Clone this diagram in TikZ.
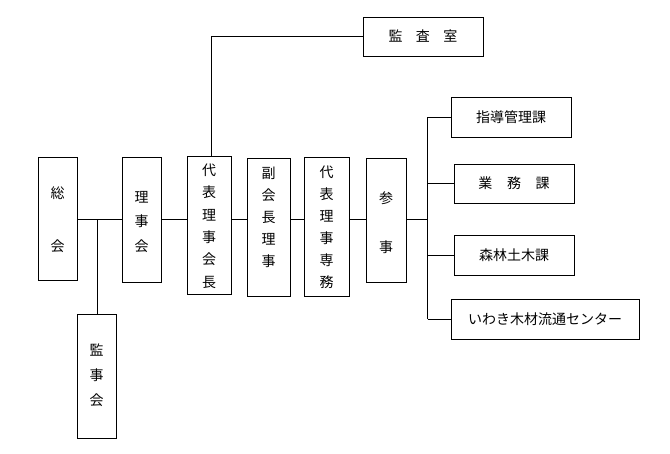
\documentclass[tikz,border=0pt]{standalone}
\usepackage{fontspec}
\newfontfamily\jp{Noto Sans CJK JP}
\begin{document}
\begin{tikzpicture}[x=1pt,y=-1pt,
  box/.style={draw, line width=1pt, inner sep=0pt, font=\jp\fontsize{14}{16}\selectfont},
  conn/.style={line width=0.8pt},
  vtxt/.style={align=center, inner sep=0pt}]
\useasboundingbox (0,0) rectangle (670,453);
% boxes
\node[box, minimum width=39, minimum height=123] (soukai) at (57.5,218.5) {};
\node[box, minimum width=39, minimum height=125] (rijikai) at (141.5,219.5) {};
\node[box, minimum width=44, minimum height=138] (daihyo) at (209,225) {};
\node[box, minimum width=43, minimum height=138] (fuku) at (268.5,227) {};
\node[box, minimum width=45, minimum height=139] (senmu) at (326.5,226.5) {};
\node[box, minimum width=40, minimum height=124] (sanji) at (386,220) {};
\node[box, minimum width=39, minimum height=124] (kanjikai) at (96.5,376) {};
\node[box, minimum width=120, minimum height=39] (kansa) at (423,36.5) {監\hspace{0.95em}査\hspace{0.95em}室};
\node[box, minimum width=120, minimum height=40] (shido) at (511,117) {指導管理課};
\node[box, minimum width=120, minimum height=39] (gyomu) at (514,183.5) {業\hspace{1.05em}務\hspace{1.05em}課};
\node[box, minimum width=120, minimum height=40] (shinrin) at (514,255) {森林土木課};
\node[box, minimum width=188, minimum height=40] (iwaki) at (545,319) {いわき木材流通センター};
% vertical texts
\node[vtxt, font=\jp\fontsize{14}{53}\selectfont] (t1) at (57.5,219.5) {総\\会};
\node[vtxt, font=\jp\fontsize{14}{24.5}\selectfont] (t2) at (141.5,222) {理\\事\\会};
\node[vtxt, font=\jp\fontsize{14}{22.4}\selectfont] (t3) at (209,226) {代\\表\\理\\事\\会\\長};
\node[vtxt, font=\jp\fontsize{14}{22}\selectfont] (t4) at (268.5,217) {副\\会\\長\\理\\事};
\node[vtxt, font=\jp\fontsize{14}{22}\selectfont] (t5) at (326.5,227) {代\\表\\理\\事\\専\\務};
\node[vtxt, font=\jp\fontsize{14}{49}\selectfont] (t6) at (386,222.5) {参\\事};
\node[vtxt, font=\jp\fontsize{14}{25}\selectfont] (t7) at (96.5,375) {監\\事\\会};
% connectors
\coordinate (m) at (0,219);
\coordinate (k) at (211.5,0);
\coordinate (sp) at (427.5,0);
\coordinate (kv) at (97.5,0);
\draw[conn] (soukai.east |- m) -- (rijikai.west |- m);
\draw[conn] (rijikai.east |- m) -- (daihyo.west |- m);
\draw[conn] (daihyo.east |- m) -- (fuku.west |- m);
\draw[conn] (fuku.east |- m) -- (senmu.west |- m);
\draw[conn] (senmu.east |- m) -- (sanji.west |- m);
\draw[conn] (sanji.east |- m) -- (sp |- m);
\draw[conn] (kv |- m) -- (kv |- kanjikai.north);
\draw[conn] (k |- daihyo.north) |- (kansa.west);
\draw[conn] (sp |- shido.west) -- (sp |- iwaki.west);
\draw[conn] (sp |- shido.west) -- (shido.west);
\draw[conn] (sp |- gyomu.west) -- (gyomu.west);
\draw[conn] (sp |- shinrin.west) -- (shinrin.west);
\draw[conn] (sp |- iwaki.west) -- (iwaki.west);
\end{tikzpicture}
\end{document}
